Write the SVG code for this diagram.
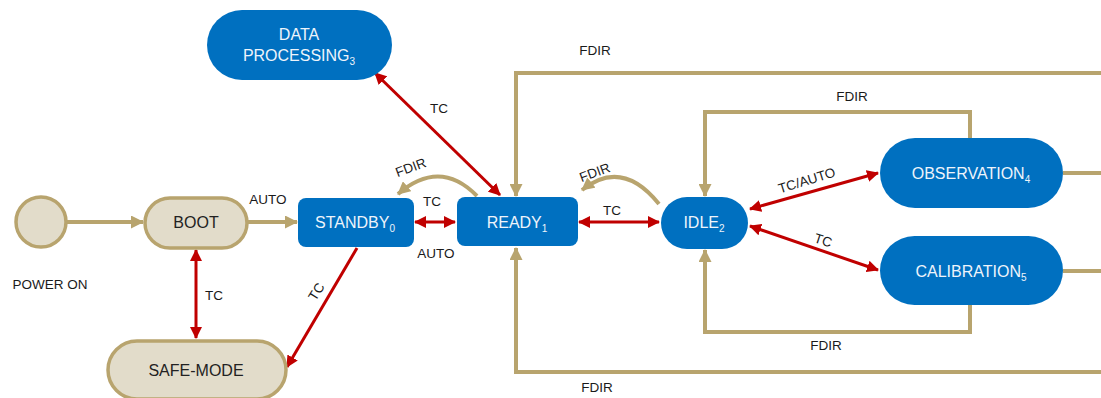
<svg xmlns="http://www.w3.org/2000/svg" width="1101" height="398" viewBox="0 0 1101 398">
<defs>
<style>
.blue{fill:#0070c0;}
.beige{fill:#e2dcca;stroke:#b8a46e;stroke-width:3.5;}
.nt{font-family:"Liberation Sans",Arial,sans-serif;font-size:16px;fill:#eef4fb;text-anchor:middle;}
.dt{font-family:"Liberation Sans",Arial,sans-serif;font-size:16px;fill:#222;text-anchor:middle;}
.sub{font-size:10px;}
.lb{font-family:"Liberation Sans",Arial,sans-serif;font-size:13.5px;fill:#1a1a1a;text-anchor:middle;}
.red{stroke:#c00000;stroke-width:3;fill:none;marker-end:url(#rh);}
.both{marker-start:url(#rh);}
.gold{stroke:#b8a46e;stroke-width:4;fill:none;}
.ga{marker-end:url(#gh);}
</style>
<marker id="rh" markerUnits="userSpaceOnUse" markerWidth="12" markerHeight="12" refX="11" refY="6" orient="auto-start-reverse"><path d="M0,0 L12,6 L0,12 z" fill="#c00000"/></marker>
<marker id="gh" markerUnits="userSpaceOnUse" markerWidth="13" markerHeight="13" refX="12" refY="6.5" orient="auto"><path d="M0,0 L13,6.5 L0,13 z" fill="#b8a46e"/></marker>
</defs>
<rect width="1101" height="398" fill="#ffffff"/>
<g id="connectors">
<path class="gold ga" d="M67,222 L143,222"/>
<path class="gold ga" d="M248,222 L297,222"/>
<path class="red both" d="M196,250 L196,338"/>
<path class="red" d="M357,248 L287,367"/>
<path class="red both" d="M415,222 L455,222"/>
<path class="red both" d="M500,195 L375,73"/>
<path class="red both" d="M579,222 L659,222"/>
<path class="red both" d="M750,209 L878,173"/>
<path class="red both" d="M750,226 L878,270"/>
<path class="gold ga" d="M477,196 Q440,158 398,194"/>
<path class="gold ga" d="M659,204 Q622,158 582,190"/>
<path class="gold ga" d="M1101,73 L516,73 L516,196"/>
<path class="gold ga" d="M1101,372 L516,372 L516,248"/>
<path class="gold ga" d="M970,138 L970,112 L705,112 L705,196"/>
<path class="gold ga" d="M970,305 L970,332 L705,332 L705,250"/>
<path class="gold" d="M1063,173 L1101,173"/>
<path class="gold" d="M1063,271 L1101,271"/>
<text class="lb" x="268" y="204">AUTO</text>
<text class="lb" x="214" y="300">TC</text>
<text class="lb" x="317" y="296" transform="rotate(-58 317 292)">TC</text>
<text class="lb" x="432" y="206">TC</text>
<text class="lb" x="436" y="258">AUTO</text>
<text class="lb" x="439" y="113">TC</text>
<text class="lb" x="411" y="172" transform="rotate(-20 411 168)">FDIR</text>
<text class="lb" x="595" y="177" transform="rotate(-20 595 173)">FDIR</text>
<text class="lb" x="612" y="215">TC</text>
<text class="lb" x="595" y="55">FDIR</text>
<text class="lb" x="597" y="392">FDIR</text>
<text class="lb" x="852" y="101">FDIR</text>
<text class="lb" x="826" y="350">FDIR</text>
<text class="lb" x="807" y="185" transform="rotate(-17 807 181)">TC/AUTO</text>
<text class="lb" x="823" y="245" transform="rotate(18 823 241)">TC</text>
<text class="lb" x="50" y="289">POWER ON</text>
</g>
<g id="power-on"><circle class="beige" cx="41" cy="222" r="25"/></g>
<g id="boot"><rect class="beige" x="145" y="198" width="102" height="50" rx="25"/><text class="dt" x="196" y="228">BOOT</text></g>
<g id="safe-mode"><rect class="beige" x="108" y="341" width="178" height="58" rx="29"/><text class="dt" x="196" y="376">SAFE-MODE</text></g>
<g id="standby"><rect class="blue" x="298" y="198" width="116" height="49" rx="8"/><text class="nt" x="355" y="228">STANDBY<tspan class="sub" dy="4">0</tspan></text></g>
<g id="ready"><rect class="blue" x="457" y="197" width="121" height="49" rx="8"/><text class="nt" x="517" y="228">READY<tspan class="sub" dy="4">1</tspan></text></g>
<g id="data-processing"><rect class="blue" x="207" y="10" width="185" height="70" rx="35"/><text class="nt" x="299" y="40">DATA</text><text class="nt" x="299" y="61">PROCESSING<tspan class="sub" dy="4">3</tspan></text></g>
<g id="idle"><rect class="blue" x="661" y="197" width="87" height="52" rx="26"/><text class="nt" x="704" y="228">IDLE<tspan class="sub" dy="4">2</tspan></text></g>
<g id="observation"><rect class="blue" x="880" y="138" width="183" height="70" rx="35"/><text class="nt" x="971" y="179">OBSERVATION<tspan class="sub" dy="4">4</tspan></text></g>
<g id="calibration"><rect class="blue" x="880" y="236" width="183" height="69" rx="34.5"/><text class="nt" x="971" y="277">CALIBRATION<tspan class="sub" dy="4">5</tspan></text></g>
</svg>
